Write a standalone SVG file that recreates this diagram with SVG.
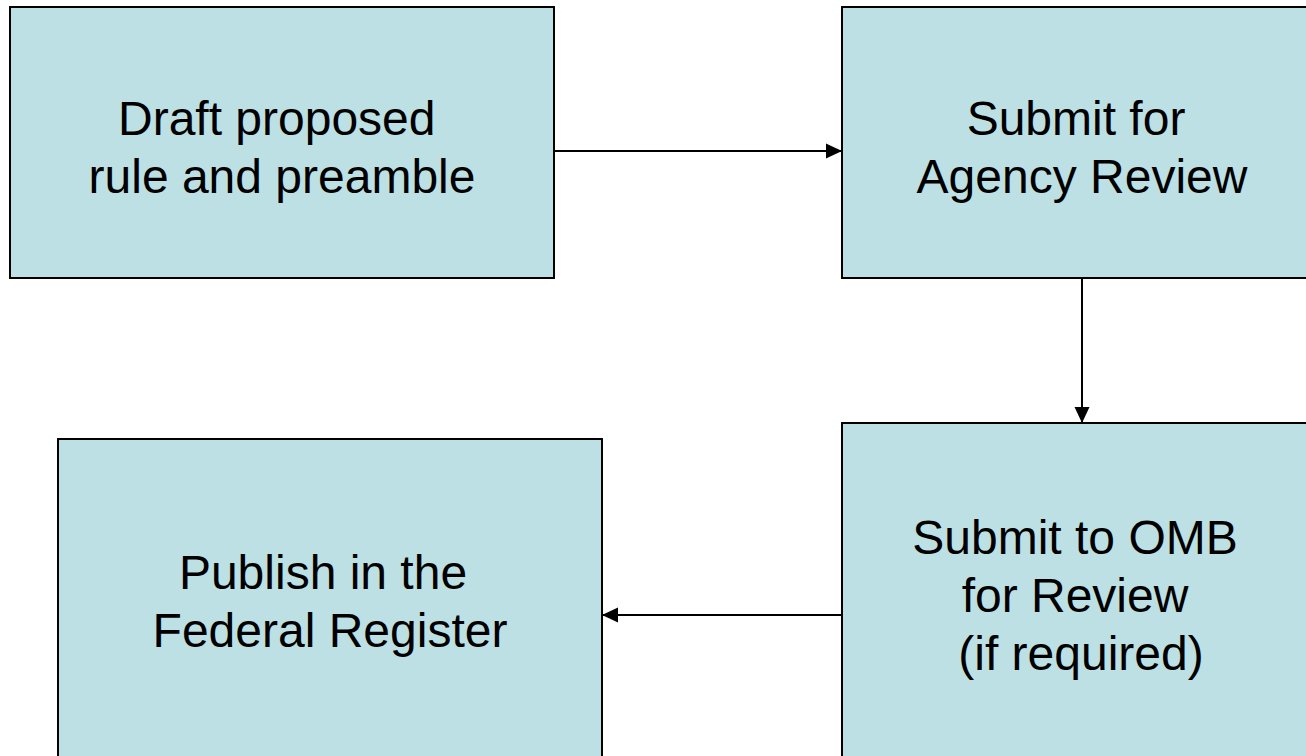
<svg xmlns="http://www.w3.org/2000/svg" width="1306" height="756" viewBox="0 0 1306 756">
<defs>
<style>
.box{fill:#bce0e3;stroke:#000;stroke-width:2}
.t{font-family:"Liberation Sans",Arial,sans-serif;font-size:48px;fill:#000}
.c{stroke:#000;stroke-width:2;fill:none}
</style>
<marker id="ah" markerWidth="16" markerHeight="16" refX="16" refY="8" orient="auto" markerUnits="userSpaceOnUse">
<path d="M0,0.5 L16,8 L0,15.5 Z" fill="#000"/>
</marker>
</defs>
<rect width="1306" height="756" fill="#fff"/>
<g id="n1">
<rect class="box" x="10" y="7" width="544" height="271"/>
<text class="t" x="118" y="135">Draft proposed</text>
<text class="t" x="282" y="193" text-anchor="middle">rule and preamble</text>
</g>
<g id="n2">
<rect class="box" x="842" y="7" width="480" height="271"/>
<text class="t" x="1076" y="135" text-anchor="middle">Submit for</text>
<text class="t" x="1082" y="193" text-anchor="middle">Agency Review</text>
</g>
<g id="n3">
<rect class="box" x="842" y="423" width="480" height="350"/>
<text class="t" x="1075" y="554" text-anchor="middle">Submit to OMB</text>
<text class="t" x="1075" y="612" text-anchor="middle">for Review</text>
<text class="t" x="1081" y="670" text-anchor="middle">(if required)</text>
</g>
<g id="n4">
<rect class="box" x="58" y="439" width="544" height="340"/>
<text class="t" x="323" y="589" text-anchor="middle">Publish in the</text>
<text class="t" x="330" y="647" text-anchor="middle">Federal Register</text>
</g>
<g id="connectors">
<line class="c" x1="555" y1="151" x2="842" y2="151" marker-end="url(#ah)"/>
<line class="c" x1="1082" y1="279" x2="1082" y2="423" marker-end="url(#ah)"/>
<line class="c" x1="842" y1="615" x2="602" y2="615" marker-end="url(#ah)"/>
</g>
</svg>
